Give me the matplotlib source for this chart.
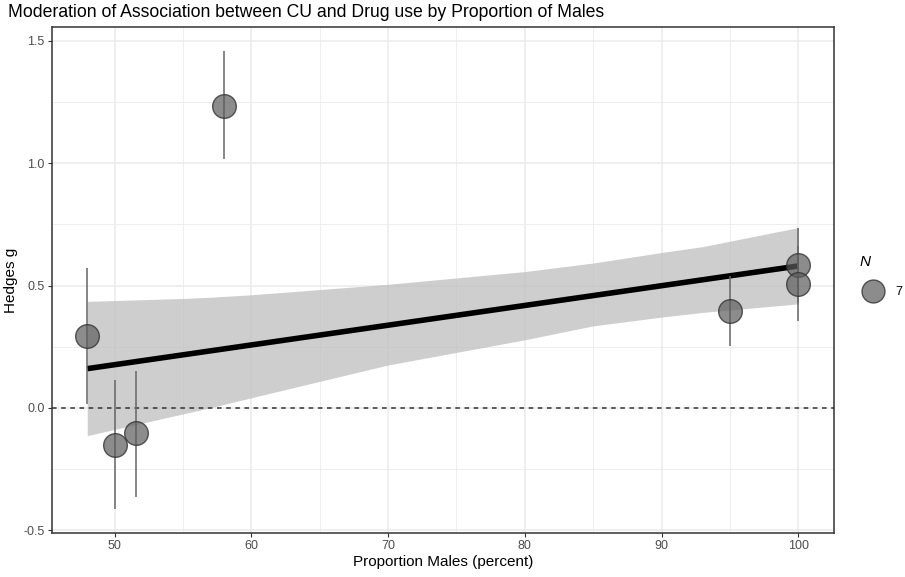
import matplotlib.pyplot as plt
from matplotlib.lines import Line2D

plt.rcParams['font.family'] = ['Liberation Sans', 'DejaVu Sans']

# study-level data
males = [48, 50, 51.6, 58, 95, 100, 100]
hedges = [0.295, -0.151, -0.105, 1.235, 0.397, 0.585, 0.508]
ci_lo = [0.016, -0.413, -0.363, 1.018, 0.253, 0.43, 0.353]
ci_hi = [0.572, 0.114, 0.151, 1.46, 0.54, 0.737, 0.66]

# meta-regression line and its confidence band
fit_x = [48, 100]
fit_y = [0.16, 0.58]
band_x = [48, 55, 57, 60, 70, 80, 85, 90, 93, 100]
band_hi = [0.435, 0.447, 0.452, 0.462, 0.505, 0.557, 0.592, 0.635, 0.659, 0.737]
band_lo = [-0.114, -0.025, 0.0, 0.041, 0.175, 0.278, 0.335, 0.371, 0.39, 0.425]

fig = plt.figure(figsize=(9.05, 5.77), dpi=100)
ax = fig.add_axes([0.0571, 0.0763, 0.8644, 0.8764])

grid_col = '#EBEBEB'
for v in [45, 55, 65, 75, 85, 95]:
    ax.axvline(v, color=grid_col, lw=0.6, zorder=0)
for v in [-0.25, 0.25, 0.75, 1.25]:
    ax.axhline(v, color=grid_col, lw=0.6, zorder=0)
ax.grid(True, color=grid_col, lw=1.1, zorder=0)
ax.set_axisbelow(True)

pt_face = (0.36, 0.36, 0.36, 0.7)
pt_edge = (0.2, 0.2, 0.2, 0.8)

ax.fill_between(band_x, band_lo, band_hi, color='#BEBEBE', alpha=0.75, lw=0, zorder=1)
ax.axhline(0, color='#333333', lw=1.1, ls=(0, (3, 3)), zorder=2)
ax.plot(fit_x, fit_y, color='black', lw=4, solid_capstyle='butt', zorder=3)
ax.vlines(males, ci_lo, ci_hi, color='#666666', lw=1.1, zorder=4)
ax.scatter(males, hedges, s=290, facecolor=pt_face, edgecolor=pt_edge, lw=1, zorder=5)

ax.set_xlim(45.4, 102.6)
ax.set_ylim(-0.512, 1.556)
ax.set_xticks([50, 60, 70, 80, 90, 100])
ax.set_yticks([-0.5, 0.0, 0.5, 1.0, 1.5])
ax.set_yticklabels(['-0.5', '0.0', '0.5', '1.0', '1.5'])
ax.tick_params(colors='#333333', labelcolor='#4D4D4D', labelsize=9, length=3, pad=2)
for s in ax.spines.values():
    s.set_color('#333333')
    s.set_linewidth(1.1)

ax.set_xlabel('Proportion Males (percent)', fontsize=11, labelpad=2)
ax.set_ylabel('Hedges g', fontsize=11, labelpad=4)
fig.text(0.009, 0.979, 'Moderation of Association between CU and Drug use by Proportion of Males',
         fontsize=12.7, va='center', ha='left')

# legend for point size
fig.text(0.950, 0.546, 'N', fontsize=11, fontstyle='italic', ha='left', va='center')
h = Line2D([], [], ls='', marker='o', markersize=16.5,
           markerfacecolor=pt_face, markeredgecolor=pt_edge)
fig.legend([h], ['7'], loc='center left', bbox_to_anchor=(0.951, 0.494),
           frameon=False, fontsize=9, handlelength=2.0,
           handletextpad=0.8, borderpad=0, borderaxespad=0)

fig.savefig('out.png', dpi=100)
